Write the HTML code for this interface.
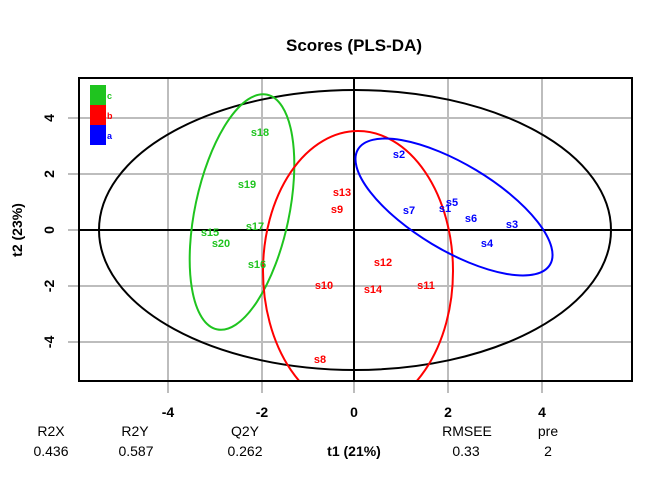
<!DOCTYPE html>
<html><head><meta charset="utf-8"><style>body{margin:0;background:#fff}svg{display:block}</style></head><body>
<svg width="672" height="480" viewBox="0 0 672 480" xmlns="http://www.w3.org/2000/svg" font-family="Liberation Sans, sans-serif">
<defs><clipPath id="c"><rect x="79" y="78" width="553" height="303"/></clipPath></defs>
<text x="354" y="51" text-anchor="middle" font-weight="bold" font-size="17">Scores (PLS-DA)</text>
<g stroke="#bdbdbd" stroke-width="2">
<line x1="168" y1="78" x2="168" y2="381"/><line x1="262" y1="78" x2="262" y2="381"/><line x1="448" y1="78" x2="448" y2="381"/><line x1="542" y1="78" x2="542" y2="381"/>
<line x1="79" y1="118" x2="632" y2="118"/><line x1="79" y1="174" x2="632" y2="174"/><line x1="79" y1="286" x2="632" y2="286"/><line x1="79" y1="342" x2="632" y2="342"/>
<line x1="168" y1="381" x2="168" y2="393"/><line x1="262" y1="381" x2="262" y2="393"/><line x1="354" y1="381" x2="354" y2="393"/><line x1="448" y1="381" x2="448" y2="393"/><line x1="542" y1="381" x2="542" y2="393"/>
<line x1="68" y1="118" x2="79" y2="118"/><line x1="68" y1="174" x2="79" y2="174"/><line x1="68" y1="230" x2="79" y2="230"/><line x1="68" y1="286" x2="79" y2="286"/><line x1="68" y1="342" x2="79" y2="342"/>
</g>
<g stroke="#000" stroke-width="2"><line x1="354" y1="78" x2="354" y2="381"/><line x1="79" y1="230" x2="632" y2="230"/></g>
<g fill="none" stroke-width="2" clip-path="url(#c)">
<ellipse cx="355" cy="230" rx="256" ry="140" stroke="#000"/>
<ellipse cx="242" cy="212" rx="47" ry="120" transform="rotate(12 242 212)" stroke="#1fc41f"/>
<ellipse cx="358" cy="271" rx="95" ry="140" stroke="#f00"/>
<ellipse cx="454" cy="207" rx="112" ry="43" transform="rotate(31 454 207)" stroke="#00f"/>
</g>
<rect x="79" y="78" width="553" height="303" fill="none" stroke="#000" stroke-width="2"/>
<rect x="90" y="85" width="16" height="20" fill="#1fc41f"/><rect x="90" y="105" width="16" height="20" fill="#f00"/><rect x="90" y="125" width="16" height="20" fill="#00f"/>
<g font-size="9" font-weight="bold"><text x="107" y="99" fill="#1fc41f">c</text><text x="107" y="119" fill="#f00">b</text><text x="107" y="139" fill="#00f">a</text></g>
<g font-size="11" font-weight="bold" text-anchor="middle">
<g fill="#1fc41f"><text x="260" y="136">s18</text><text x="247" y="188">s19</text><text x="255" y="230">s17</text><text x="210" y="236">s15</text><text x="221" y="247">s20</text><text x="257" y="268">s16</text></g>
<g fill="#f00"><text x="342" y="196">s13</text><text x="337" y="213">s9</text><text x="324" y="289">s10</text><text x="320" y="363">s8</text><text x="383" y="266">s12</text><text x="373" y="293">s14</text><text x="426" y="289">s11</text></g>
<g fill="#00f"><text x="399" y="158">s2</text><text x="409" y="214">s7</text><text x="445" y="212">s1</text><text x="452" y="206">s5</text><text x="471" y="222">s6</text><text x="512" y="228">s3</text><text x="487" y="247">s4</text></g>
</g>
<g font-size="14" font-weight="bold" text-anchor="middle">
<text x="168" y="417">-4</text><text x="262" y="417">-2</text><text x="354" y="417">0</text><text x="448" y="417">2</text><text x="542" y="417">4</text>
<text transform="translate(54 118) rotate(-90)">4</text><text transform="translate(54 174) rotate(-90)">2</text><text transform="translate(54 230) rotate(-90)">0</text><text transform="translate(54 286) rotate(-90)">-2</text><text transform="translate(54 342) rotate(-90)">-4</text>
<text transform="translate(22 230) rotate(-90)">t2 (23%)</text>
<text x="354" y="456">t1 (21%)</text>
</g>
<g font-size="14" text-anchor="middle">
<text x="51" y="436">R2X</text><text x="51" y="456">0.436</text>
<text x="135" y="436">R2Y</text><text x="136" y="456">0.587</text>
<text x="245" y="436">Q2Y</text><text x="245" y="456">0.262</text>
<text x="467" y="436">RMSEE</text><text x="466" y="456">0.33</text>
<text x="548" y="436">pre</text><text x="548" y="456">2</text>
</g>
</svg>
</body></html>
